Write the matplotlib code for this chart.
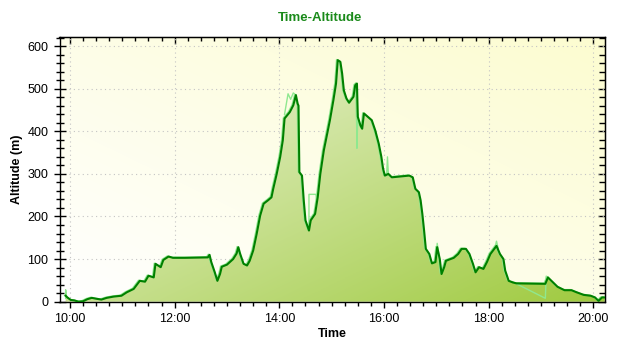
import numpy as np
import matplotlib
matplotlib.use('Agg')
import matplotlib.pyplot as plt
import matplotlib.transforms as mtransforms
from matplotlib.ticker import MultipleLocator, FuncFormatter
from matplotlib.colors import LinearSegmentedColormap
from matplotlib.patches import PathPatch

# smoothed altitude track (dark line)
times = [
  '9:55', '9:57', '10:01', '10:05', '10:10', '10:15', '10:20', '10:25', '10:30', '10:36',
  '10:42', '10:50', '10:59', '11:05', '11:13', '11:20', '11:26', '11:30', '11:36', '11:38',
  '11:44', '11:47', '11:53', '11:58', '12:12', '12:38', '12:40', '12:42', '12:46', '12:49',
  '12:52', '12:54', '13:00', '13:07', '13:11', '13:13', '13:15', '13:19', '13:23', '13:26',
  '13:30', '13:34', '13:38', '13:42', '13:47', '13:51', '13:53', '13:57', '14:01', '14:04',
  '14:06', '14:12', '14:16', '14:19', '14:21', '14:22', '14:23', '14:26', '14:28', '14:30',
  '14:34', '14:36', '14:41', '14:44', '14:47', '14:51', '14:55', '14:58', '15:02', '15:05',
  '15:07', '15:10', '15:12', '15:14', '15:17', '15:20', '15:25', '15:27', '15:29', '15:30',
  '15:33', '15:35', '15:37', '15:41', '15:46', '15:50', '15:54', '15:57', '15:59', '16:01',
  '16:05', '16:09', '16:19', '16:29', '16:33', '16:36', '16:40', '16:42', '16:44', '16:46',
  '16:48', '16:52', '16:55', '16:59', '17:01', '17:04', '17:06', '17:09', '17:11', '17:16',
  '17:20', '17:25', '17:29', '17:34', '17:38', '17:42', '17:45', '17:49', '17:54', '17:58',
  '18:02', '18:05', '18:09', '18:13', '18:17', '18:19', '18:23', '18:28', '18:32', '19:05',
  '19:08', '19:12', '19:19', '19:27', '19:35', '19:41', '19:49', '19:57', '20:02', '20:06',
  '20:10', '20:13',
]
altitude = [
  14, 10, 4, 3, 0, 1, 6, 9, 7, 5,
  9, 12, 14, 22, 30, 49, 47, 61, 57, 89,
  81, 98, 106, 103, 103, 104, 110, 93, 69, 49,
  65, 82, 87, 100, 113, 128, 113, 89, 85, 96,
  120, 159, 202, 230, 238, 245, 265, 300, 340, 379,
  430, 445, 461, 485, 465, 460, 304, 296, 238, 191,
  167, 191, 206, 245, 300, 355, 395, 426, 473, 512,
  567, 563, 536, 496, 477, 467, 481, 508, 512, 434,
  414, 406, 442, 435, 426, 402, 371, 340, 312, 296,
  300, 292, 294, 296, 292, 265, 257, 238, 206, 167,
  124, 112, 90, 93, 128, 100, 65, 81, 96, 100,
  103, 112, 124, 124, 112, 89, 69, 81, 77, 93,
  112, 120, 131, 112, 100, 73, 49, 45, 43, 42,
  57, 49, 35, 27, 27, 22, 16, 14, 10, 2,
  10, 10,
]

# raw altitude pieces where it leaves the smoothed track (light line)
raw_times = [
  ['9:55', '9:55', '9:56'],
  ['14:06', '14:10', '14:13', '14:16', '14:19'],
  ['14:34', '14:34', '14:42', '14:43'],
  ['15:28', '15:29', '15:30'],
  ['16:03', '16:04', '16:05'],
  ['17:00', '17:01', '17:03'],
  ['18:07', '18:09', '18:11'],
  ['18:27', '19:05', '19:06', '19:08'],
]
raw_altitude = [
  [8, 28, 12],
  [440, 488, 475, 490, 485],
  [175, 252, 252, 240],
  [512, 360, 440],
  [296, 340, 300],
  [110, 137, 110],
  [125, 142, 125],
  [47, 8, 60, 57],
]

title = 'Time-Altitude'
x_label = 'Time'
y_label = 'Altitude (m)'


def to_hours(s):
  h, m = s.split(':')
  return int(h) + int(m) / 60.0


t = np.array([to_hours(s) for s in times])
alt = np.array(altitude, dtype=float)

fig = plt.figure(figsize=(6.4, 3.5), dpi=100)
fig.patch.set_facecolor('white')
ax = fig.add_axes([59.5 / 640, 1 - 301.7 / 350, (605 - 59.5) / 640, (301.7 - 36.7) / 350])

x0, x1 = 9.7993, 20.2236
y0, y1 = 0, 622
ax.set_xlim(x0, x1)
ax.set_ylim(y0, y1)
ax.patch.set_visible(False)

# background gradient: white bottom-left to pale yellow top-right
yy, xx = np.mgrid[0:1:200j, 0:1:200j]
bg_cmap = LinearSegmentedColormap.from_list('bg', ['#ffffff', '#fcfcd0'])
ax.imshow((xx + yy) / 2, extent=[x0, x1, y0, y1], origin='lower', aspect='auto',
          cmap=bg_cmap, vmin=0, vmax=1, zorder=0, interpolation='bilinear')

# area gradient clipped to the altitude profile
fill = ax.fill_between(t, alt, 0, facecolor='none', edgecolor='none')
clip = PathPatch(fill.get_paths()[0], transform=ax.transData, facecolor='none', edgecolor='none')
ax.add_patch(clip)
fill_cmap = LinearSegmentedColormap.from_list('fill', ['#f4f8e8', '#9fca3f'])
im = ax.imshow(0.5 * xx + 0.5 * (1 - yy), extent=[x0, x1, y0, y1], origin='lower',
               aspect='auto', cmap=fill_cmap, vmin=0, vmax=1, zorder=1, interpolation='bilinear')
im.set_clip_path(clip)

# light line: raw pieces plus a slight halo of the track
halo = ax.transData + mtransforms.ScaledTranslation(-1.2 / 100, 0.6 / 100, fig.dpi_scale_trans)
ax.plot(t, alt, color='#8fe88f', lw=1.0, zorder=2, transform=halo)
for rt, ra in zip(raw_times, raw_altitude):
  ax.plot([to_hours(s) for s in rt], ra, color='#8fe88f', lw=1.0, zorder=2)
ax.plot(t, alt, color='#008000', lw=1.5, zorder=3)

ax.set_axisbelow(True)
ax.grid(True, which='major', color='#c4c4c4', linestyle=(0, (1, 3)), linewidth=0.8)

ax.xaxis.set_major_locator(MultipleLocator(2))
ax.xaxis.set_minor_locator(MultipleLocator(0.25))
ax.xaxis.set_major_formatter(FuncFormatter(lambda v, p: f'{int(round(v))}:00'))
ax.yaxis.set_major_locator(MultipleLocator(100))
ax.yaxis.set_minor_locator(MultipleLocator(20))

tick_font = 'Liberation Sans'
ax.tick_params(axis='y', which='major', direction='inout', length=8, width=1, pad=4)
ax.tick_params(axis='y', which='minor', direction='inout', length=6, width=1)
ax.tick_params(axis='x', which='major', direction='out', length=4, width=1, pad=4)
ax.tick_params(axis='x', which='minor', direction='out', length=3, width=1)
for lab in ax.get_xticklabels() + ax.get_yticklabels():
  lab.set_fontfamily(tick_font)
  lab.set_fontsize(9)

sec_y = ax.secondary_yaxis('right')
sec_y.yaxis.set_major_locator(MultipleLocator(100))
sec_y.yaxis.set_minor_locator(MultipleLocator(20))
sec_y.tick_params(which='major', direction='in', length=5, width=1, labelright=False)
sec_y.tick_params(which='minor', direction='in', length=4, width=1)

sec_x = ax.secondary_xaxis('top')
sec_x.xaxis.set_major_locator(MultipleLocator(2))
sec_x.xaxis.set_minor_locator(MultipleLocator(0.25))
sec_x.tick_params(which='major', direction='in', length=5, width=1, labeltop=False)
sec_x.tick_params(which='minor', direction='in', length=3, width=1)

for sp in ax.spines.values():
  sp.set_color('black')
  sp.set_linewidth(1)

fig.text(0.5, 1 - 18 / 350, title, ha='center', va='center', color='#1a8a1a',
         fontsize=9.5, fontweight='bold', family='Liberation Sans')
ax.set_xlabel(x_label, fontsize=9, fontweight='bold', family='Liberation Sans', labelpad=2)
ax.set_ylabel(y_label, fontsize=9, fontweight='bold', family='Liberation Sans', labelpad=3)

fig.savefig('out.png', dpi=100)
